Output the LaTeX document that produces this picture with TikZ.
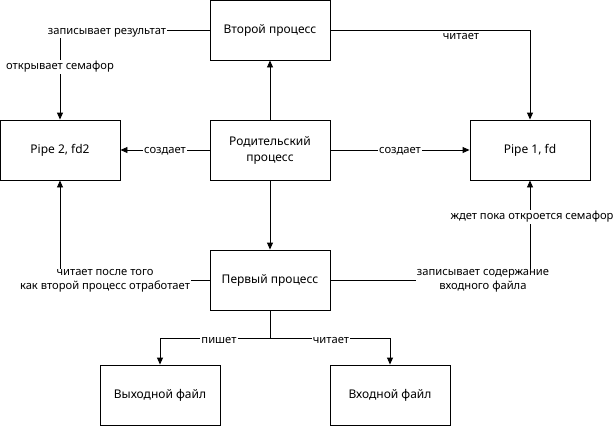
\documentclass[tikz,border=0pt]{standalone}
\usepackage{fontspec}
\setmainfont{Noto Sans}
\usetikzlibrary{arrows.meta}
\begin{document}
\begin{tikzpicture}[x=1pt,y=-1pt,
  box/.style={draw, line width=0.9pt, minimum width=120pt, minimum height=60pt, inner sep=0pt, align=center, font=\fontsize{12}{16}\selectfont},
  arr/.style={line width=0.9pt, -{Triangle[length=7pt,width=6pt]}},
  lbl/.style={fill=white, inner sep=1pt, align=center, font=\fontsize{11.2}{14}\selectfont}]
\useasboundingbox (0,0) rectangle (613,426);
\node[box] (sec) at (270,30) {Второй процесс};
\node[box] (par) at (270,150) {Родительский\\процесс};
\node[box] (p2) at (60,150) {Pipe 2, fd2};
\node[box] (p1) at (530,150) {Pipe 1, fd};
\node[box] (fst) at (270,280) {Первый процесс};
\node[box] (out) at (160,395) {Выходной файл};
\node[box] (inp) at (390,395) {Входной файл};
\coordinate (split) at (270,338);

\draw[arr] (par) -- (sec);
\draw[arr] (par) -- (p2);
\draw[arr] (par) -- (p1);
\draw[arr] (par) -- (fst);
\draw[arr] (sec.west) -| (p2.north);
\draw[arr] (sec.east) -| (p1.north);
\draw[arr] (fst.west) -| (p2.south);
\draw[arr] (fst.east) -| (p1.south);
\draw[line width=0.9pt] (fst.south) -- (split);
\draw[arr] (split) -| (out.north);
\draw[arr] (split) -| (inp.north);

\node[lbl] (l1) at (107,33) {записывает результат};
\node[lbl] (l2) at (60,67) {открывает семафор};
\node[lbl] (l3) at (165,151) {создает};
\node[lbl] (l4) at (400,151) {создает};
\node[lbl] (l5) at (461,36) {читает};
\node[lbl] (l6) at (105,281) {читает после того\\как второй процесс отработает};
\node[lbl] (l7) at (483,281) {записывает содержание\\входного файла};
\node[lbl] (l8) at (532,217) {ждет пока откроется семафор};
\node[lbl] (l9) at (219,340) {пишет};
\node[lbl] (l10) at (331,340) {читает};
\end{tikzpicture}
\end{document}
